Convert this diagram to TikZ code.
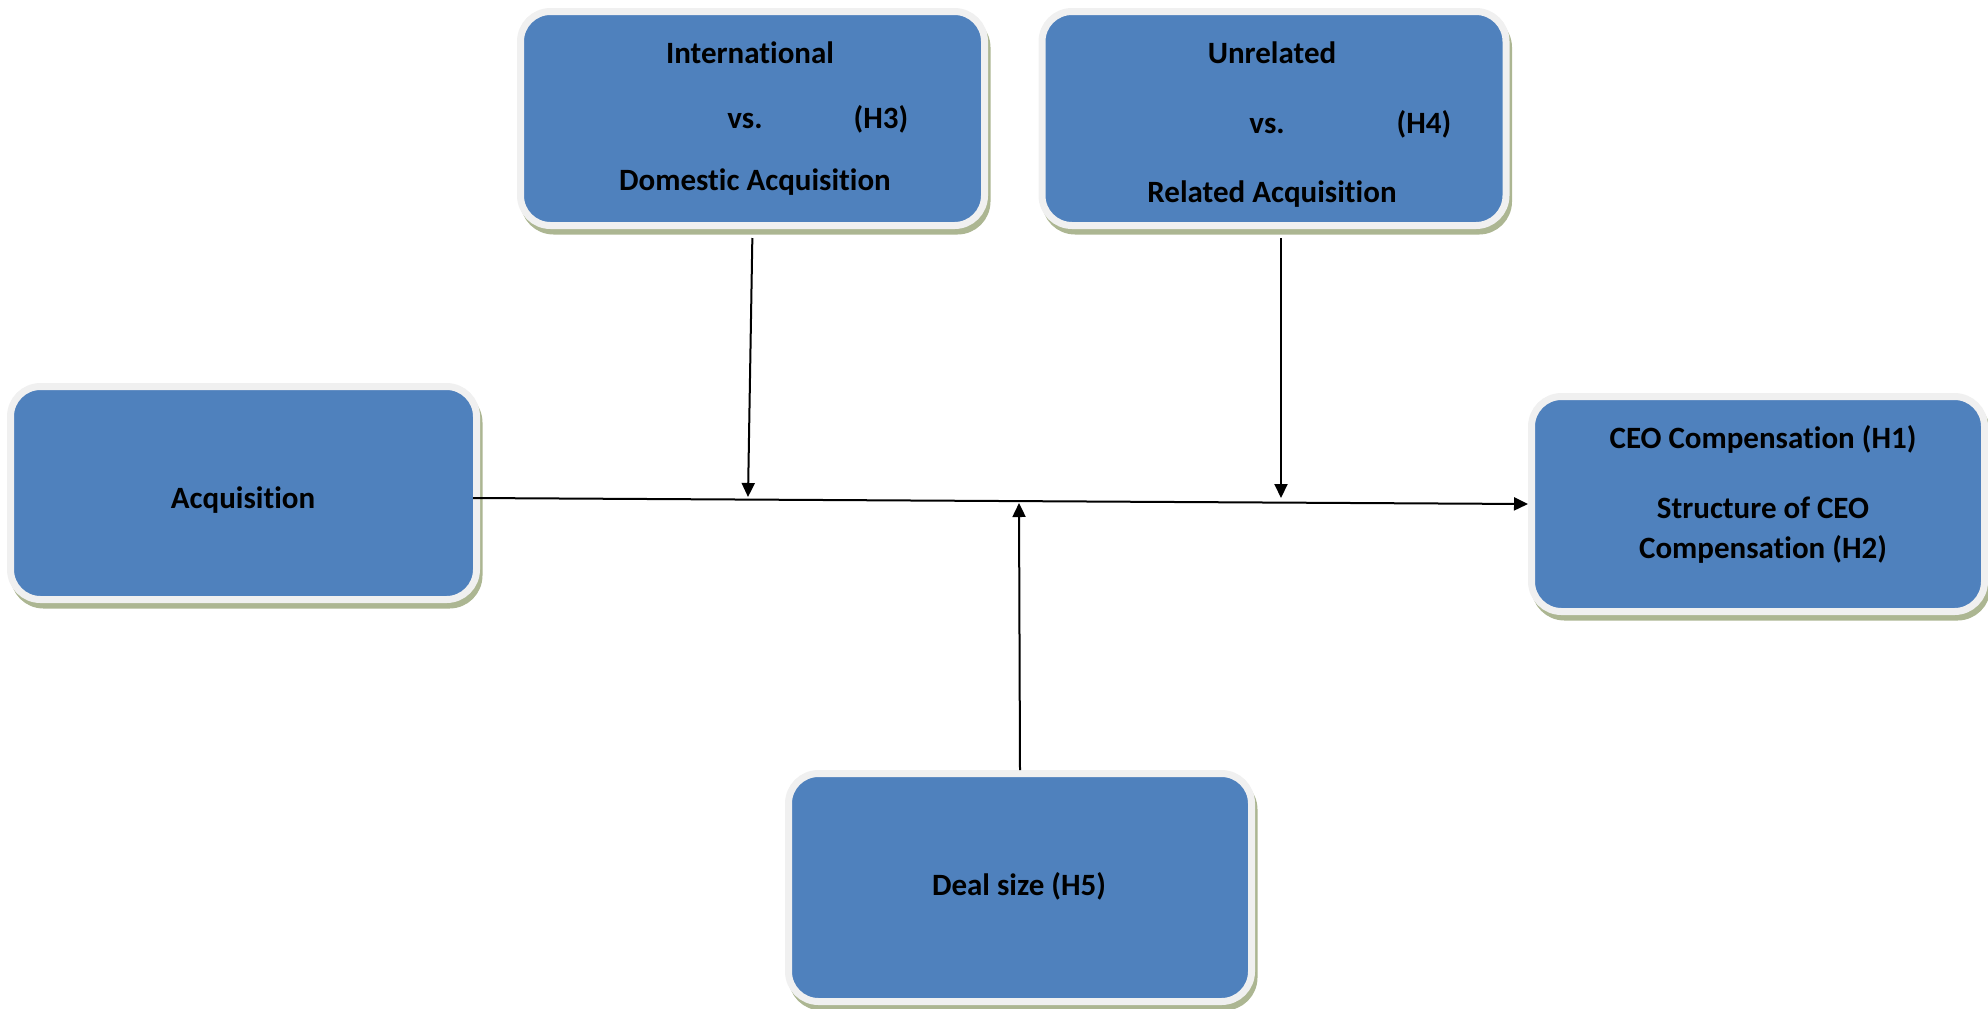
\documentclass[tikz,border=0pt]{standalone}
\usepackage{fontspec}
\setmainfont{Carlito}[Ligatures=NoCommon]
\usepackage{tikz}
\usetikzlibrary{arrows.meta,shadows}
\definecolor{boxblue}{RGB}{79,129,189}
\definecolor{boxrim}{RGB}{240,240,240}
\definecolor{boxshade}{RGB}{172,182,146}

\begin{document}
\begin{tikzpicture}[x=0.5pt,y=-0.5pt,
  box/.style={draw=boxrim, line width=3.5pt, fill=boxblue, rounded corners=15pt, inner sep=0pt,
    drop shadow={shadow xshift=1.5pt, shadow yshift=-3pt, fill=boxshade, draw=boxshade, line width=3pt, opacity=1}},
  lbl/.style={anchor=base, font=\fontsize{15.5}{18}\selectfont\bfseries},
  arr/.style={-{Triangle[length=7pt,width=6.5pt]}, line width=1pt}]

\useasboundingbox (0,0) rectangle (1988,1008);

\node[box, minimum width=233pt, minimum height=106.5pt] (acq) at (243.5,493) {};
\node[lbl] (acqt) at (243,508) {Acquisition};

\node[box, minimum width=232pt, minimum height=107pt] (h3) at (752.5,118.5) {};
\node[lbl] (h3a) at (750,63) {International};
\node[lbl] (h3b) at (745,128) {vs.};
\node[lbl] (h3c) at (881,128) {(H3)};
\node[lbl] (h3d) at (755,190) {Domestic Acquisition};

\node[box, minimum width=232pt, minimum height=107pt] (h4) at (1274,118.5) {};
\node[lbl] (h4a) at (1272,63) {Unrelated};
\node[lbl] (h4b) at (1267,133) {vs.};
\node[lbl] (h4c) at (1424,133) {(H4)};
\node[lbl] (h4d) at (1272,202) {Related Acquisition};

\node[box, minimum width=226.5pt, minimum height=107.5pt] (res) at (1758,504) {};
\node[lbl] (resa) at (1763,448) {CEO Compensation (H1)};
\node[lbl] (resb) at (1763,518) {Structure of CEO};
\node[lbl] (resc) at (1763,558) {Compensation (H2)};

\node[box, minimum width=231.5pt, minimum height=114pt] (deal) at (1020,887.5) {};
\node[lbl] (dealt) at (1019,895) {Deal size (H5)};

% moderators meet the main path here
\coordinate (j3) at (748,497);
\coordinate (j4) at (1281,498);
\coordinate (j5) at (1019,503);

\draw[arr] ([xshift=-3.5pt,yshift=-2.5pt]acq.east) -- (res.west);
\draw[arr, shorten <=4.5pt] (h3.south) -- (j3);
\draw[arr, shorten <=4.5pt] ([xshift=3.5pt]h4.south) -- (j4);
\draw[arr] (deal.north) -- (j5);
\end{tikzpicture}
\end{document}
